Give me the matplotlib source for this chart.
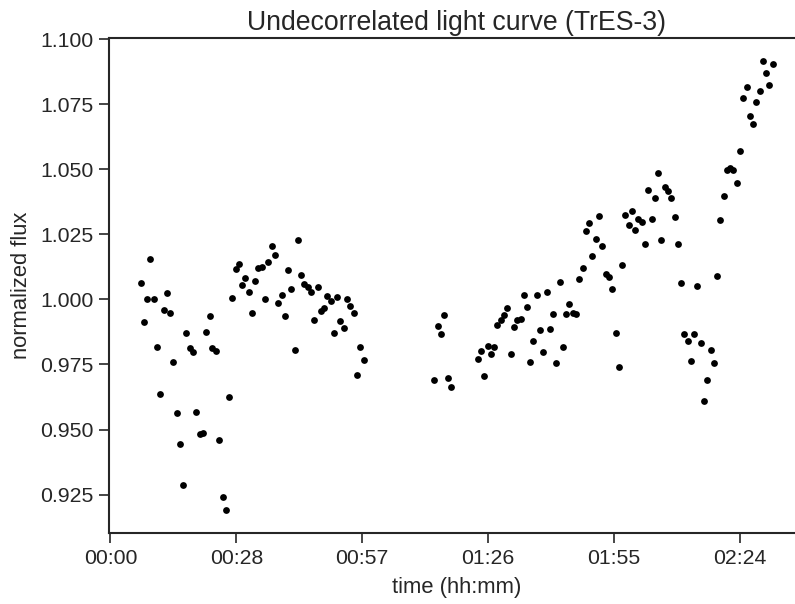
import matplotlib
matplotlib.use("Agg")
import matplotlib.pyplot as plt
from matplotlib.ticker import MultipleLocator, FuncFormatter

# time since start of the observation, in minutes
time_min = [
    6.95, 7.71, 8.39, 9.15, 9.92, 10.68, 11.43, 12.21, 12.90, 13.65,
    14.41, 15.18, 15.94, 16.63, 17.38, 18.16, 18.91, 19.67, 20.44, 21.20,
    21.88, 22.73, 23.33, 24.10, 24.93, 25.70, 26.39, 27.21, 27.90, 28.68,
    29.43, 30.12, 30.87, 31.65, 32.40, 33.16, 33.84, 34.62, 35.38, 36.13,
    36.98, 37.66, 38.42, 39.20, 39.88, 40.64, 41.39, 42.17, 42.85, 43.68,
    44.36, 45.14, 45.90, 46.65, 47.43, 48.18, 48.94, 49.62, 50.40, 51.16,
    51.91, 52.60, 53.37, 54.13, 54.88, 55.66, 56.42, 57.10, 57.95,
    74.09, 74.87, 75.62, 76.38, 77.16, 77.84,
    84.02, 84.77, 85.53, 86.26, 87.06, 87.75, 88.50, 89.23, 90.03, 90.79,
    91.52, 92.32, 93.05, 93.80, 94.54, 95.29, 96.02, 96.73, 97.46, 98.27,
    99.02, 99.75, 100.55, 101.24, 101.99, 102.72, 103.52, 104.25, 104.94, 105.74,
    106.50, 107.25, 108.03, 108.78, 109.54, 110.22, 111.00, 111.76, 112.51, 113.29,
    114.04, 114.80, 115.58, 116.26, 117.02, 117.77, 118.55, 119.30, 120.06, 120.74,
    121.52, 122.28, 123.03, 123.81, 124.57, 125.25, 126.00, 126.78, 127.54, 128.29,
    129.07, 129.75, 130.51, 131.26, 132.04, 132.80, 133.48, 134.24, 135.01, 135.77,
    136.52, 137.30, 138.05, 138.74, 139.49, 140.27, 140.96, 141.71, 142.47, 143.25,
    144.00, 144.76, 145.53, 146.29, 147.04, 147.73, 148.51, 149.26, 150.02, 150.70,
    151.55,
]

flux = [
    1.0064, 0.9913, 1.0003, 1.0154, 1.0003, 0.9817, 0.9637, 0.9958, 1.0026, 0.9947,
    0.9760, 0.9565, 0.9444, 0.9286, 0.9872, 0.9812, 0.9797, 0.9566, 0.9483, 0.9488,
    0.9875, 0.9936, 0.9815, 0.9803, 0.9459, 0.9241, 0.9190, 0.9625, 1.0005, 1.0118,
    1.0134, 1.0057, 1.0081, 1.0027, 0.9947, 1.0071, 1.0119, 1.0124, 1.0003, 1.0145,
    1.0204, 1.0169, 0.9986, 1.0016, 0.9936, 1.0112, 1.0041, 0.9805, 1.0227, 1.0093,
    1.0059, 1.0046, 1.0030, 0.9921, 1.0046, 0.9957, 0.9968, 1.0014, 0.9995, 0.9870,
    1.0008, 0.9917, 0.9891, 1.0002, 0.9976, 0.9949, 0.9709, 0.9817, 0.9767,
    0.9692, 0.9897, 0.9866, 0.9940, 0.9697, 0.9664,
    0.9770, 0.9801, 0.9705, 0.9821, 0.9790, 0.9817, 0.9901, 0.9919, 0.9940, 0.9966,
    0.9790, 0.9893, 0.9921, 0.9924, 1.0016, 0.9972, 0.9761, 0.9840, 1.0016, 0.9882,
    0.9799, 1.0028, 0.9888, 0.9943, 0.9757, 1.0067, 0.9816, 0.9942, 0.9982, 0.9949,
    0.9944, 1.0078, 1.0119, 1.0264, 1.0295, 1.0168, 1.0231, 1.0319, 1.0204, 1.0099,
    1.0086, 1.0040, 0.9872, 0.9742, 1.0131, 1.0324, 1.0286, 1.0341, 1.0268, 1.0308,
    1.0297, 1.0214, 1.0419, 1.0310, 1.0388, 1.0487, 1.0228, 1.0433, 1.0415, 1.0389,
    1.0315, 1.0212, 1.0062, 0.9866, 0.9841, 0.9765, 0.9867, 1.0053, 0.9831, 0.9610,
    0.9692, 0.9806, 0.9755, 1.0091, 1.0305, 1.0397, 1.0496, 1.0505, 1.0496, 1.0446,
    1.0571, 1.0773, 1.0817, 1.0704, 1.0674, 1.0760, 1.0801, 1.0917, 1.0871, 1.0823,
    1.0906,
]

text_color = "#262626"
plt.rcParams["font.family"] = ["Liberation Sans", "DejaVu Sans"]
plt.rcParams["text.color"] = text_color
plt.rcParams["axes.labelcolor"] = text_color
plt.rcParams["xtick.color"] = text_color
plt.rcParams["ytick.color"] = text_color

fig = plt.figure(figsize=(7.95, 6.04), dpi=100)
# the right spine sits just past the right edge of the canvas
ax = fig.add_axes([0.1374, 0.1180, 0.8747, 0.8188])

ax.scatter(time_min, flux, s=24, c="k", linewidths=0)
ax.margins(0.05)


def hhmm(x, pos):
    secs = int(round(x * 60))
    return "%02d:%02d" % (secs // 3600, (secs // 60) % 60)


# ticks every 0.02 day
ax.xaxis.set_major_locator(MultipleLocator(28.8))
ax.xaxis.set_major_formatter(FuncFormatter(hhmm))
ax.yaxis.set_major_locator(MultipleLocator(0.025))
ax.yaxis.set_major_formatter(FuncFormatter(lambda v, p: "%.3f" % v))

for sp in ax.spines.values():
    sp.set_color(text_color)
    sp.set_linewidth(1.5)
ax.tick_params(direction="out", length=7, width=1.2, pad=4.5, labelsize=15.3)

ax.set_title("Undecorrelated light curve (TrES-3)", fontsize=19.2, pad=6)
ax.set_xlabel("time (hh:mm)", fontsize=15.8, labelpad=7)
ax.set_ylabel("normalized flux", fontsize=15.8, labelpad=6)

fig.savefig("out.png", dpi=100)
